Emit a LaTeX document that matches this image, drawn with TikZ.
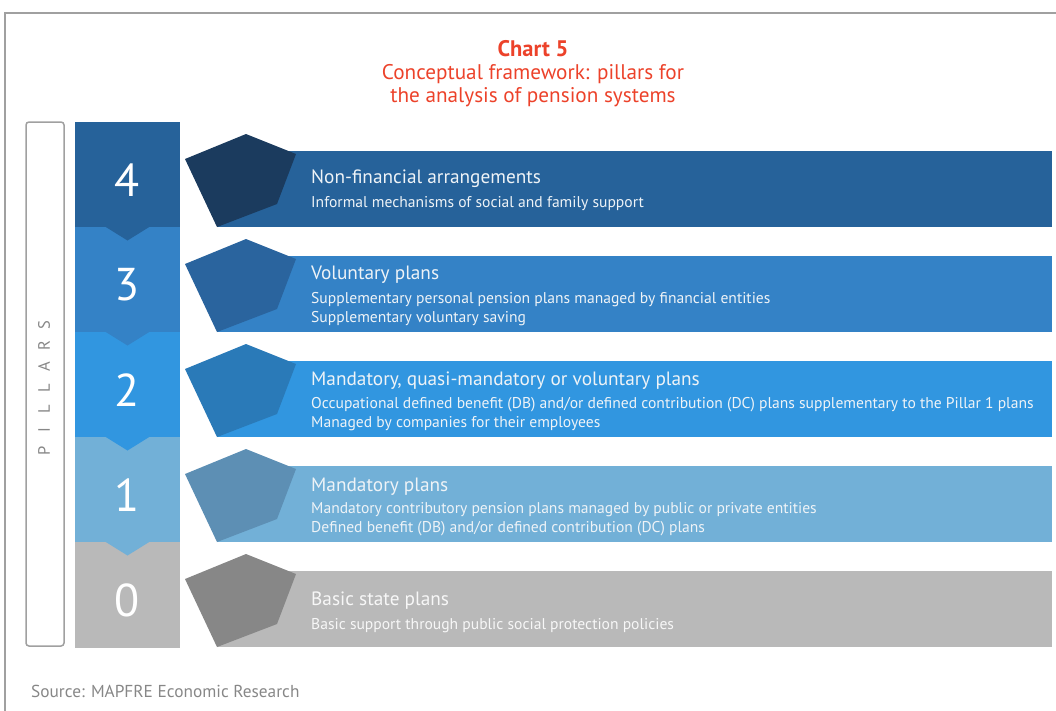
\documentclass[tikz,border=0pt]{standalone}
\usepackage{fontspec}
\setmainfont{PT Sans}
\usepackage{xcolor}
\usepackage{tikz}
\usetikzlibrary{positioning}

\definecolor{titlered}{RGB}{236,66,42}
\definecolor{framegray}{RGB}{160,160,160}
\definecolor{labelgray}{RGB}{135,135,135}
% pillar colours: column/bar and pentagon
\definecolor{col4}{RGB}{38,98,154}
\definecolor{col3}{RGB}{52,130,198}
\definecolor{col2}{RGB}{49,150,224}
\definecolor{col1}{RGB}{114,176,215}
\definecolor{col0}{RGB}{185,185,185}
\definecolor{pen4}{RGB}{27,59,94}
\definecolor{pen3}{RGB}{42,100,158}
\definecolor{pen2}{RGB}{42,122,184}
\definecolor{pen1}{RGB}{93,143,180}
\definecolor{pen0}{RGB}{135,135,135}

\begin{document}
\begin{tikzpicture}[
    x=1pt, y=-1pt,
    heading/.style={text=titlered, align=center, font=\fontsize{21.2}{23}\selectfont},
    digit/.style={text=white, font=\fontsize{46}{46}\selectfont},
    bartitle/.style={anchor=base west, text=white!92!col4, inner sep=0pt, font=\fontsize{19.3}{22}\selectfont},
    % base anchor of a multi-line node sits on its last line
    barsub/.style={anchor=base west, text=white!92!col4, inner sep=0pt, align=left, font=\fontsize{15.6}{18.5}\selectfont},
    pletter/.style={text=labelgray, rotate=90, inner sep=0pt, font=\fontsize{16.5}{16.5}\selectfont}
]
    \useasboundingbox (0,0) rectangle (1056,710);
    \draw[framegray, line width=2pt] (5,712) -- (5,13) -- (1056,13);

    \node[heading] (title) at (533,74) {{\fontsize{22.5}{23}\selectfont\textbf{Chart 5}}\\Conceptual framework: pillars for\\the analysis of pension systems};

    % side label
    \draw[framegray, line width=1.5pt, rounded corners=3pt] (26,122) rectangle (64,646);
    \foreach \l [count=\i] in {P,I,L,L,A,R,S}
        \node[pletter] (pl\i) at (44,{451-21*(\i-1)}) {\l};

    % numbered column, bars and pentagons
    \foreach \n/\top in {4/122, 3/227, 2/332, 1/437, 0/542} {
        \fill[col\n] (75,\top) rectangle (180,\top+105.5);
        \fill[col\n] (217,\top+29) rectangle (1052,\top+105);
        \fill[pen\n] (185,\top+37) -- (246,\top+12) -- (296,\top+32)
            -- (277,\top+82) -- (217,\top+105) -- cycle;
        \node[digit] (d\n) at (127.5,\top+58) {\n};
    }
    % notches carried down from the pillar above
    \foreach \n/\top in {3/227, 2/332, 1/437, 0/542} {
        \pgfmathtruncatemacro\up{\n+1}
        \fill[col\up] (105,\top-0.5) -- (127.5,\top+13.5) -- (150,\top-0.5) -- cycle;
    }

    \node[bartitle] (t4) at (311,183) {Non-financial arrangements};
    \node[barsub] (s4) at (311,207) {Informal mechanisms of social and family support};

    \node[bartitle] (t3) at (311,279) {Voluntary plans};
    \node[barsub] (s3) at (311,322) {Supplementary personal pension plans managed by financial entities\\Supplementary voluntary saving};

    \node[bartitle] (t2) at (311,385) {Mandatory, quasi-mandatory or voluntary plans};
    \node[barsub] (s2) at (311,427) {Occupational defined benefit (DB) and/or defined contribution (DC) plans supplementary to the Pillar 1 plans\\Managed by companies for their employees};

    \node[bartitle] (t1) at (311,491) {Mandatory plans};
    \node[barsub] (s1) at (311,532) {Mandatory contributory pension plans managed by public or private entities\\Defined benefit (DB) and/or defined contribution (DC) plans};

    \node[bartitle, text=white!88!col0] (t0) at (311,605) {Basic state plans};
    \node[barsub, text=white!88!col0] (s0) at (311,629) {Basic support through public social protection policies};

    \node[anchor=base west, text=labelgray, inner sep=0pt, font=\fontsize{17.3}{20}\selectfont] (src) at (31,697) {Source: MAPFRE Economic Research};
\end{tikzpicture}
\end{document}
